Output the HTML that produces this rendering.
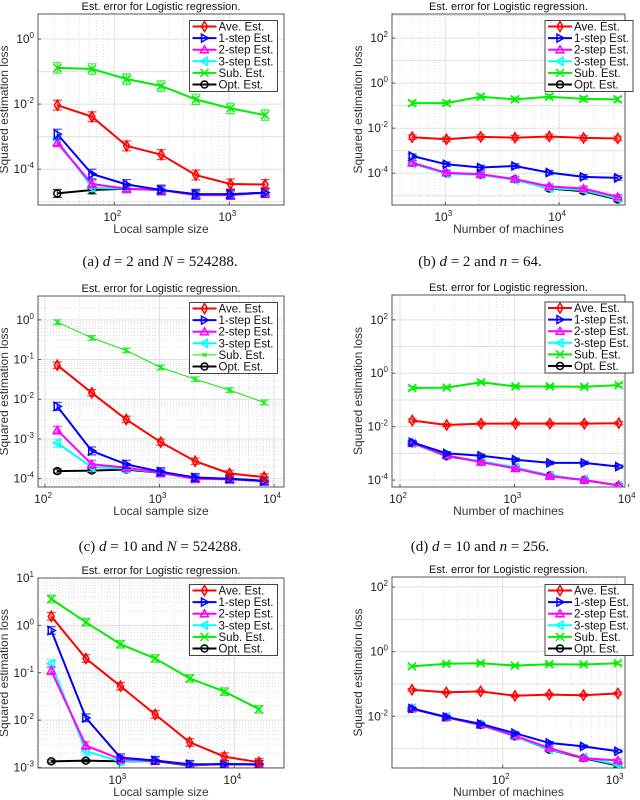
<!DOCTYPE html>
<html><head><meta charset="utf-8"><style>
html,body{margin:0;padding:0;background:#fff}
svg{display:block;font-family:"Liberation Sans",sans-serif}
.cap{font-family:"Liberation Serif",serif;font-size:15px}
</style></head><body>
<svg id="fig" width="640" height="800" viewBox="0 0 640 800"></svg>
<script>
// ---------- data ----------
const seriesNames=["Ave. Est.","1-step Est.","2-step Est.","3-step Est.","Sub. Est.","Opt. Est."];
const aX=[32,64,128,256,512,1024,2048];
const aAve=[9.3e-3,4.1e-3,5.2e-4,2.8e-4,6.6e-5,3.5e-5,3.4e-5];
const aS1=[1.2e-3,7.1e-5,3.4e-5,2.3e-5,1.7e-5,1.7e-5,1.9e-5];
const aS2=[6.5e-4,3.5e-5,2.5e-5,2.3e-5,1.6e-5,1.6e-5,1.9e-5];
const aS3=[7.8e-4,2.7e-5,2.5e-5,2.3e-5,1.6e-5,1.6e-5,1.9e-5];
const aSub=[0.13,0.12,0.059,0.036,0.014,0.0074,0.0046];
const aOpt=[1.8e-5,2.3e-5,2.5e-5,2.3e-5,1.7e-5,1.7e-5,1.9e-5];
const bX=[512,1024,2048,4096,8192,16384,32768];
const bAve=[4.0e-3,3.2e-3,4.1e-3,3.8e-3,4.3e-3,3.7e-3,3.5e-3];
const bS1=[5.8e-4,2.5e-4,1.8e-4,2.1e-4,1.07e-4,6.9e-5,6.2e-5];
const bS2=[2.9e-4,1.05e-4,9e-5,5.5e-5,2.6e-5,2.1e-5,8.9e-6];
const bS3=[2.7e-4,9.5e-5,8.5e-5,5e-5,2.2e-5,1.8e-5,7.5e-6];
const bSub=[0.13,0.13,0.25,0.19,0.25,0.2,0.19];
const bOpt=[2.9e-4,1.0e-4,8.7e-5,5.4e-5,2.1e-5,1.6e-5,6.8e-6];
const cX=[128,256,512,1024,2048,4096,8192];
const cAve=[0.072,0.0145,3.1e-3,8.3e-4,2.75e-4,1.35e-4,1.1e-4];
const cS1=[6.6e-3,5e-4,2.3e-4,1.5e-4,1.07e-4,1e-4,8.7e-5];
const cS2=[1.66e-3,2.3e-4,1.9e-4,1.4e-4,1e-4,9.7e-5,8.7e-5];
const cS3=[7.9e-4,1.95e-4,1.8e-4,1.4e-4,1e-4,9.7e-5,8.7e-5];
const cSub=[0.87,0.35,0.17,0.063,0.032,0.017,0.0083];
const cOpt=[1.55e-4,1.6e-4,1.7e-4,1.4e-4,1.02e-4,1e-4,8.9e-5];
const dX=[128,256,512,1024,2048,4096,8192];
const dAve=[0.017,0.0115,0.013,0.013,0.013,0.013,0.0135];
const dS1=[2.6e-3,1.0e-3,8.1e-4,5.8e-4,4.4e-4,4.4e-4,3.2e-4];
const dS2=[2.5e-3,8.4e-4,4.7e-4,2.7e-4,1.4e-4,1.0e-4,6.3e-5];
const dS3=[2.4e-3,8.2e-4,5e-4,3e-4,1.45e-4,1.04e-4,6e-5];
const dSub=[0.28,0.29,0.46,0.32,0.32,0.31,0.36];
const dOpt=[2.4e-3,7.8e-4,4.9e-4,2.9e-4,1.48e-4,1.0e-4,6.2e-5];
const eX=[256,512,1024,2048,4096,8192,16384];
const eAve=[1.55,0.2,0.052,0.0132,3.4e-3,1.7e-3,1.29e-3];
const eS1=[0.78,0.0112,1.62e-3,1.41e-3,1.17e-3,1.17e-3,1.17e-3];
const eS2=[0.11,2.9e-3,1.5e-3,1.41e-3,1.13e-3,1.17e-3,1.15e-3];
const eS3=[0.155,2.2e-3,1.35e-3,1.41e-3,1.13e-3,1.17e-3,1.15e-3];
const eSub=[3.6,1.17,0.4,0.2,0.076,0.04,0.017];
const eOpt=[1.35e-3,1.4e-3,1.35e-3,1.37e-3,1.1e-3,1.2e-3,1.15e-3];
const fX=[16,32,64,128,256,512,1024];
const fAve=[0.066,0.055,0.059,0.043,0.047,0.045,0.051];
const fS1=[0.0174,9.5e-3,5.8e-3,3.0e-3,1.5e-3,1.17e-3,8.3e-4];
const fS2=[0.0174,9.3e-3,5.5e-3,2.5e-3,1.05e-3,5.1e-4,4.3e-4];
const fS3=[0.0174,9.5e-3,5.5e-3,2.4e-3,9.5e-4,5.3e-4,3.2e-4];
const fSub=[0.35,0.42,0.44,0.37,0.41,0.4,0.44];
const fOpt=[0.017,9.3e-3,5.4e-3,2.4e-3,9.3e-4,5.1e-4,2.95e-4];
// error bar half-widths in decades, per series
const aErr=[0.15,0.15,0.12,0.12,0.16,0.12];
const bErr=[0.1,0.1,0.1,0.1,0.1,0.1];
const cErr=[0.08,0.1,0.1,0.1,0.06,0.05];
const dErr=[0.06,0.06,0.06,0.06,0.06,0.05];
const eErr=[0.08,0.08,0.08,0.08,0.08,0.03];
const fErr=[0.04,0.04,0.04,0.04,0.04,0.04];
// tick exponents
const aYT=[0,-2,-4], aXT=[2,3];
const bYT=[2,0,-2,-4], bXT=[3,4];
const cYT=[0,-1,-2,-3,-4], cXT=[2,3,4];
const dYT=[2,0,-2,-4], dXT=[2,3,4];
const eYT=[1,0,-1,-2,-3], eXT=[3,4];
const fYT=[2,0,-2], fXT=[2,3];
const captions=['(a) <tspan font-style="italic">d</tspan> = 2 and <tspan font-style="italic">N</tspan> = 524288.','(b) <tspan font-style="italic">d</tspan> = 2 and <tspan font-style="italic">n</tspan> = 64.','(c) <tspan font-style="italic">d</tspan> = 10 and <tspan font-style="italic">N</tspan> = 524288.','(d) <tspan font-style="italic">d</tspan> = 10 and <tspan font-style="italic">n</tspan> = 256.'];

// ---------- drawing ----------
const NS="http://www.w3.org/2000/svg";
const svg=document.getElementById('fig');
function mk(tag,attrs,parent){const e=document.createElementNS(NS,tag);for(const k in attrs)e.setAttribute(k,attrs[k]);(parent||svg).appendChild(e);return e;}
const colors=["#ff0000","#0000ff","#ff00ff","#00ffff","#00ee00","#000000"];
const keys=["ave","step1","step2","step3","sub","opt"];

function marker(g,k,x,y,c){
  const s=4;
  if(k==="ave"){const m=mk('path',{d:`M${x} ${y-s-1}L${x+s-1} ${y}L${x} ${y+s+1}L${x-s+1} ${y}Z`,fill:'none',stroke:c,'stroke-width':1.5},g);}
  else if(k==="step1"){const m=mk('path',{d:`M${x-s+1} ${y-s}L${x+s} ${y}L${x-s+1} ${y+s}Z`,fill:'none',stroke:c,'stroke-width':1.5},g);}
  else if(k==="step2"){const m=mk('path',{d:`M${x} ${y-s}L${x+s} ${y+s-1}L${x-s} ${y+s-1}Z`,fill:'none',stroke:c,'stroke-width':1.5},g);}
  else if(k==="step3"){const m=mk('path',{d:`M${x+s-1} ${y-s}L${x-s} ${y}L${x+s-1} ${y+s}Z`,fill:'none',stroke:c,'stroke-width':1.5},g);}
  else if(k==="sub"){const m=mk('path',{d:`M${x-s} ${y-s}L${x+s} ${y+s}M${x-s} ${y+s}L${x+s} ${y-s}`,fill:'none',stroke:c,'stroke-width':1.5},g);}
  else {const m=mk('circle',{cx:x,cy:y,r:3.5,fill:'none',stroke:c,'stroke-width':1.5},g);}
}

function panel(p){
  const g=mk('g',{});
  
  
  const L=p.box[0],R=p.box[1],T=p.box[2],B=p.box[3];
  const xs=v=>L+(Math.log10(v)-p.xr[0])/(p.xr[1]-p.xr[0])*(R-L);
  const ys=v=>B-(Math.log10(v)-p.yr[0])/(p.yr[1]-p.yr[0])*(B-T);
  const xl=e=>L+(e-p.xr[0])/(p.xr[1]-p.xr[0])*(R-L);
  const yl=e=>B-(e-p.yr[0])/(p.yr[1]-p.yr[0])*(B-T);
  const grid=mk('g',{},g);
  
  
  for(let d=Math.floor(p.xr[0]);d<=Math.ceil(p.xr[1]);d++){
    for(let m=1;m<10;m++){const e=d+Math.log10(m);if(e<p.xr[0]||e>p.xr[1])continue;const x=xl(e);
      mk('line',{x1:x,x2:x,y1:T,y2:B,stroke:m===1?'#e0e0e0':'#d0d0d0','stroke-width':m===1?1:0.7,'stroke-dasharray':m===1?'':'1,2'},grid);}
  }
  for(let d=Math.floor(p.yr[0]);d<=Math.ceil(p.yr[1]);d++){
    const e=d;if(e>=p.yr[0]&&e<=p.yr[1]){const y=yl(e);mk('line',{x1:L,x2:R,y1:y,y2:y,stroke:'#e0e0e0','stroke-width':1},grid);}
    if(p.yminor){for(let m=2;m<10;m++){const e2=d+Math.log10(m);if(e2<p.yr[0]||e2>p.yr[1])continue;const y=yl(e2);mk('line',{x1:L,x2:R,y1:y,y2:y,stroke:'#d0d0d0','stroke-width':0.7,'stroke-dasharray':'1,2'},grid);}}
  }
  const bx=mk('rect',{x:L,y:T,width:R-L,height:B-T,fill:'none',stroke:'#555','stroke-width':1},g);
  
  
  p.yt.forEach(e=>{const y=yl(e);
    mk('line',{x1:L,x2:L+3,y1:y,y2:y,stroke:'#555'},g);
    const t=mk('text',{x:L-4,y:y+4,'text-anchor':'end','font-size':12,fill:'#222'},g);
    
    
    t.innerHTML='10<tspan dy="-5" font-size="8">'+e+'</tspan>';});
  p.xt.forEach(e=>{const x=xl(e);
    mk('line',{x1:x,x2:x,y1:B,y2:B-3,stroke:'#555'},g);
    const t=mk('text',{x:x-2,y:B+16,'text-anchor':'middle','font-size':12,fill:'#222'},g);
    
    
    t.innerHTML='10<tspan dy="-5" font-size="8">'+e+'</tspan>';});
  const tt=mk('text',{x:(L+R)/2,y:T-4,'text-anchor':'middle','font-size':11,fill:'#111'},g);
  
  
  tt.textContent='Est. error for Logistic regression.';
  const xlab=mk('text',{x:(L+R)/2,y:B+28,'text-anchor':'middle','font-size':12,fill:'#333'},g);
  
  
  xlab.textContent=p.xlabel;
  const ylx=p.ylx, yly=(T+B)/2;
  const ylab=mk('text',{x:ylx,y:yly,'text-anchor':'middle','font-size':12,fill:'#333',transform:`rotate(-90 ${ylx} ${yly})`},g);
  
  
  ylab.textContent='Squared estimation loss';
  const clip='clip'+p.name;
  const cp=mk('clipPath',{id:clip},g);mk('rect',{x:L,y:T,width:R-L,height:B-T},cp);
  const sg=mk('g',{'clip-path':`url(#${clip})`},g);
  [5,4,3,2,1,0].forEach(i=>{
    const vals=p.series[i];const c=colors[i];
    const s=mk('g',{},sg);
    
    
    const thin=(p.thinSub&&i===4);
    const pts=vals.map((v,j)=>xs(p.x[j]).toFixed(1)+','+ys(v).toFixed(1)).join(' ');
    const pl=mk('polyline',{points:pts,fill:'none',stroke:c,'stroke-width':thin?1:2},s);
    
    
    vals.forEach((v,j)=>{const x=xs(p.x[j]);const e=p.err[i];
      const y1=ys(v*Math.pow(10,e)),y2=ys(v/Math.pow(10,e));
      const eb=mk('path',{d:`M${x} ${y1}L${x} ${y2}M${x-4.5} ${y1}L${x+4.5} ${y1}M${x-4.5} ${y2}L${x+4.5} ${y2}`,stroke:c,'stroke-width':1.2,fill:'none','stroke-opacity':0.75},s);
      
      
      if(thin){const m=mk('path',{d:`M${x-2} ${ys(v)-2}L${x+2} ${ys(v)+2}M${x-2} ${ys(v)+2}L${x+2} ${ys(v)-2}`,stroke:c,'stroke-width':1},s);}
      else marker(s,keys[i],x,ys(v),c);
    });
  });
  const lg=mk('g',{},g);
  
  
  const lx=p.leg[0],ly=p.leg[1];
  mk('rect',{x:lx,y:ly,width:88,height:71,fill:'#fff',stroke:'#444','stroke-width':1},lg);
  seriesNames.forEach((n,i)=>{const y=ly+6+i*11.6;
    const e=mk('g',{},lg);
    
    
    const thin=(p.thinSub&&i===4);
    mk('line',{x1:lx+3,x2:lx+27,y1:y,y2:y,stroke:colors[i],'stroke-width':thin?1:2},e);
    if(thin){mk('path',{d:`M${lx+13} ${y-2}L${lx+17} ${y+2}M${lx+13} ${y+2}L${lx+17} ${y-2}`,stroke:colors[i],'stroke-width':1},e);}
    else marker(e,keys[i],lx+15,y,colors[i]);
    const t=mk('text',{x:lx+29,y:y+4,'font-size':11.5,fill:'#111'},e);
    t.textContent=n;});
}
const S=(a,b,c,d,e,f)=>[a,b,c,d,e,f];
panel({name:'panel-a',box:[38,284,14,205],xr:[1.337,3.476],yr:[-5.1,0.77],x:aX,series:S(aAve,aS1,aS2,aS3,aSub,aOpt),err:aErr,yt:aYT,xt:aXT,xlabel:'Local sample size',ylx:8,leg:[189.5,20.5]});
panel({name:'panel-b',box:[392,625,14,205],xr:[2.532,4.579],yr:[-5.41,3.07],x:bX,series:S(bAve,bS1,bS2,bS3,bSub,bOpt),err:bErr,yt:bYT,xt:bXT,xlabel:'Number of machines',ylx:362,leg:[545,20.5]});
panel({name:'panel-c',box:[38,284,296,487],xr:[1.939,4.087],yr:[-4.21,0.6],x:cX,series:S(cAve,cS1,cS2,cS3,cSub,cOpt),err:cErr,yt:cYT,xt:cXT,xlabel:'Local sample size',ylx:8,leg:[189.5,302.5],yminor:true,thinSub:true});
panel({name:'panel-d',box:[392,625,295,487],xr:[1.93,3.968],yr:[-4.26,2.93],x:dX,series:S(dAve,dS1,dS2,dS3,dSub,dOpt),err:dErr,yt:dYT,xt:dXT,xlabel:'Number of machines',ylx:362,leg:[545,302]});
panel({name:'panel-e',box:[38,284,578,768],xr:[2.293,4.432],yr:[-3.01,1.0],x:eX,series:S(eAve,eS1,eS2,eS3,eSub,eOpt),err:eErr,yt:eYT,xt:eXT,xlabel:'Local sample size',ylx:8,leg:[189.5,584.5],yminor:true});
panel({name:'panel-f',box:[392,625,577,768],xr:[1.029,3.073],yr:[-3.6,2.31],x:fX,series:S(fAve,fS1,fS2,fS3,fSub,fOpt),err:fErr,yt:fYT,xt:fXT,xlabel:'Number of machines',ylx:362,leg:[545,584.5]});
const capPos=[[160,266],[480,266],[160,551],[480,551]];
captions.forEach((c,i)=>{const t=mk('text',{x:capPos[i][0],y:capPos[i][1],'text-anchor':'middle',class:'cap',fill:'#111'});
  
  
  t.innerHTML=c;});
</script>
</body></html>
